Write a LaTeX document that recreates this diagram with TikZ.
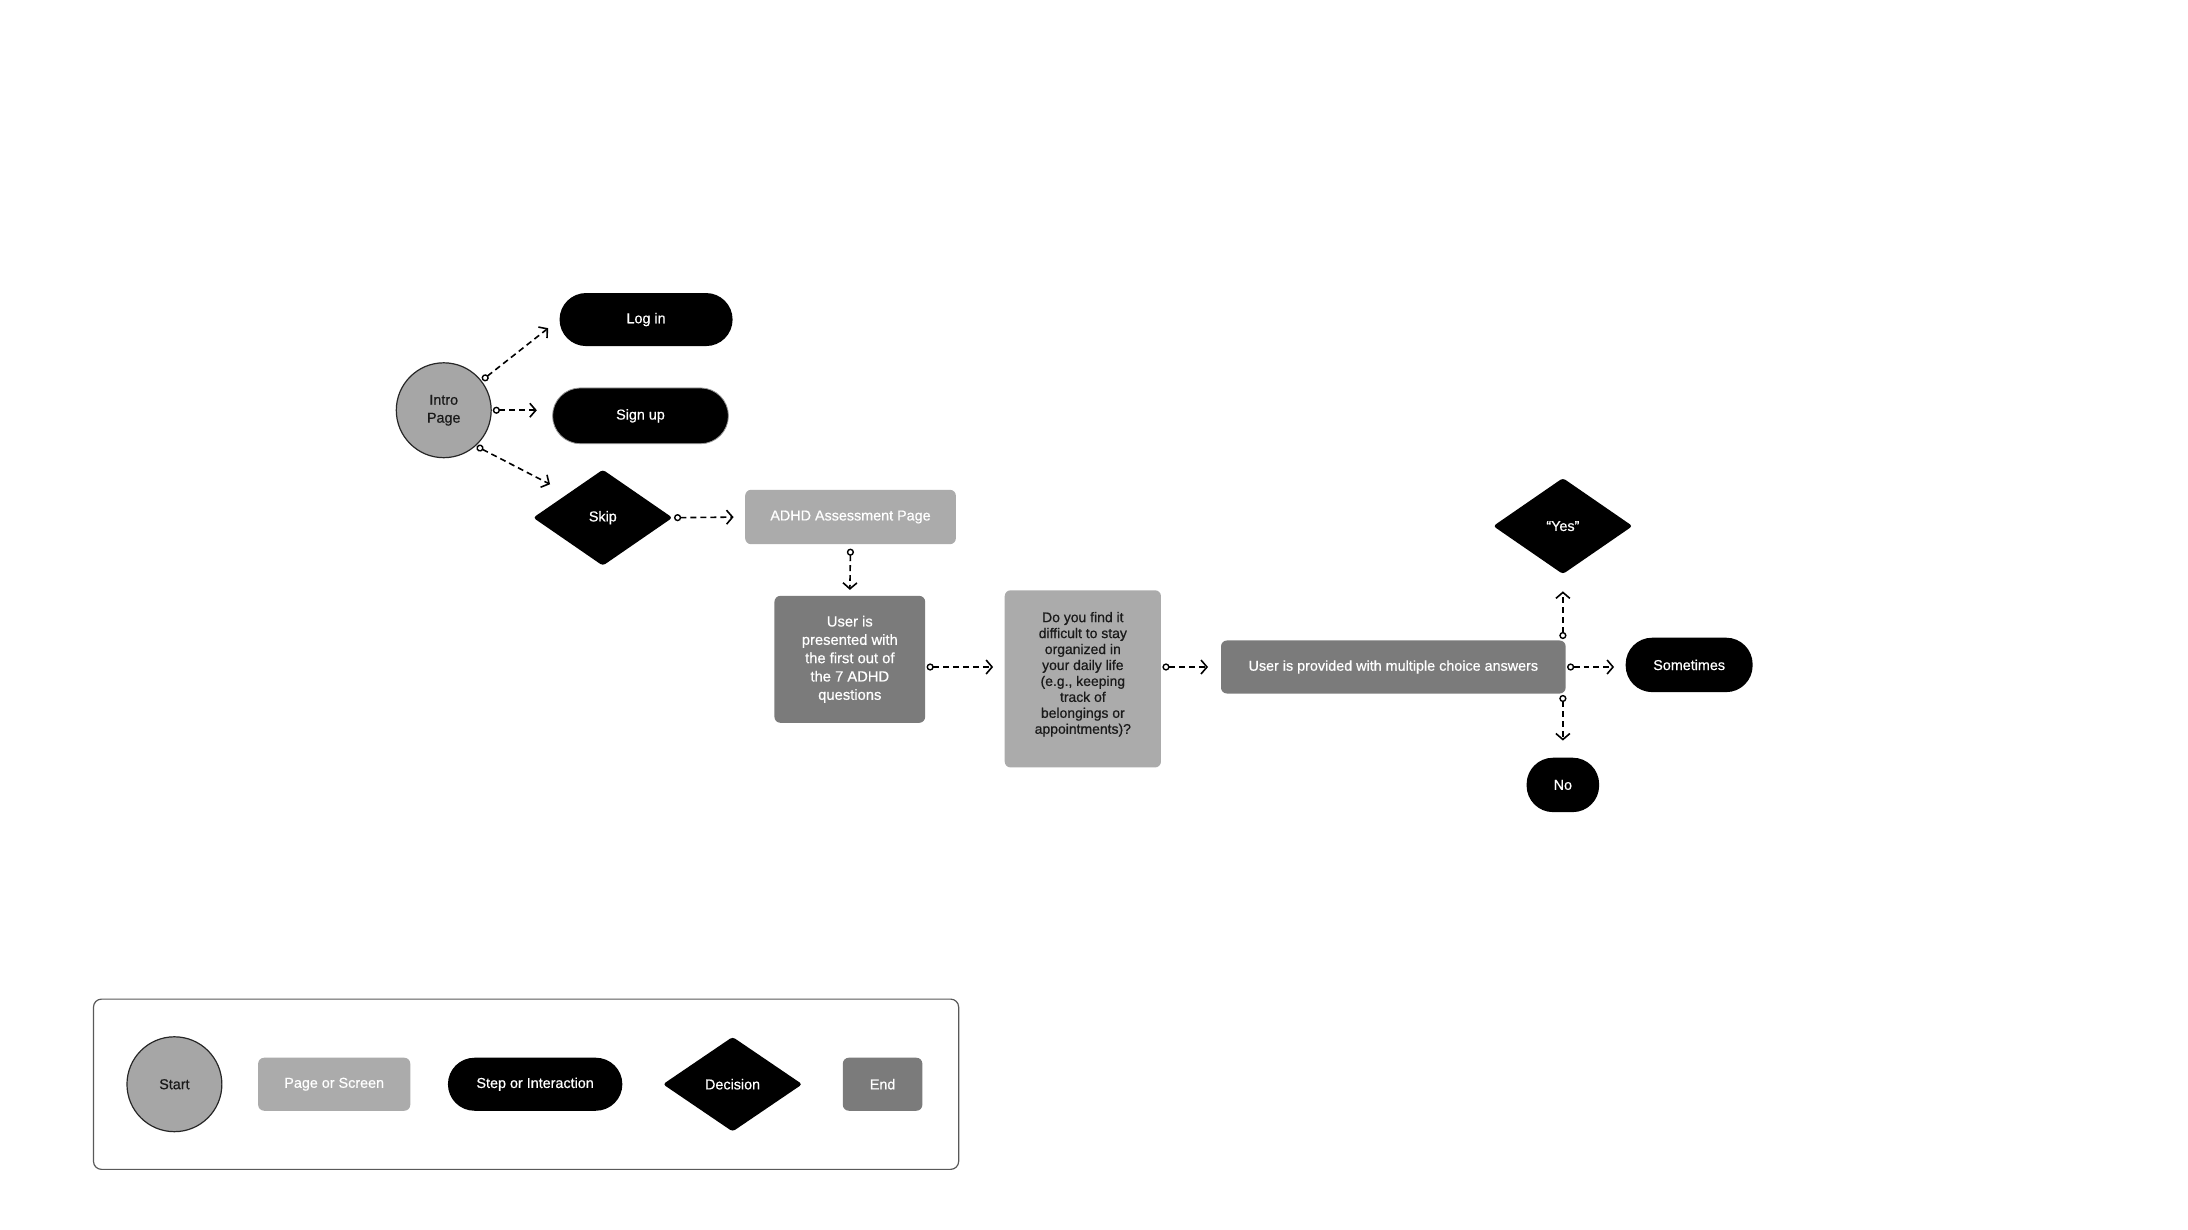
\documentclass[tikz,border=0pt]{standalone}
\usepackage{fontspec}
\setmainfont{Liberation Sans}[FakeBold=0.6]
\usetikzlibrary{shapes.geometric,arrows.meta,calc}
\definecolor{startgray}{HTML}{A6A6A6}
\definecolor{pagegray}{HTML}{ABABAB}
\definecolor{endgray}{HTML}{7B7B7B}
\definecolor{txtdark}{HTML}{1A1A1A}
\begin{document}
\begin{tikzpicture}[x=0.7pt,y=-0.7pt,
 base/.style={inner sep=0pt, font=\fontsize{7.2}{9}\selectfont, align=center},
 startnode/.style={base, circle, fill=startgray, draw=black!85, line width=0.6pt, minimum size=47.6pt, text=txtdark},
 pagebox/.style={base, rectangle, rounded corners=3pt, fill=pagegray, text=white},
 endbox/.style={base, rectangle, rounded corners=3pt, fill=endgray, text=white},
 pill/.style={base, rectangle, rounded corners=13.3pt, fill=black, text=white},
 decision/.style={base, diamond, fill=black, text=white, rounded corners=1.5pt, minimum width=70pt, minimum height=48.3pt},
 conn/.style={line width=0.8pt, dash pattern=on 3pt off 2pt, {Circle[open,length=3.6pt,width=3.6pt,line width=0.7pt]}-{Straight Barb[length=3pt,width=7pt,line width=0.8pt]}, shorten <=0.5pt}
]
\path[use as bounding box, fill=white] (0,0) rectangle (1568,881);

% main flow
\node[startnode] (intro) at (318,294) {Intro\\Page};
\node[pill, minimum width=86.8pt, minimum height=26.6pt] (login) at (463,229) {Log in};
\node[pill, minimum width=88.2pt, minimum height=28pt, rounded corners=14pt, draw=black!40, line width=0.4pt] (signup) at (459,298) {Sign up};
\node[decision] (skip) at (432,371) {Skip};
\node[pagebox, minimum width=105.7pt, minimum height=27.3pt] (adhd) at (609.5,370.5) {ADHD Assessment Page};
\node[endbox, minimum width=75.6pt, minimum height=63.7pt, font=\fontsize{7.4}{9.2}\selectfont] (user) at (609,472.5) {User is\\presented with\\the first out of\\the 7 ADHD\\questions};
\node[pagebox, text=txtdark, minimum width=78.4pt, minimum height=88.9pt, font=\fontsize{7}{8}\selectfont] (q1) at (776,486.5) {Do you find it\\difficult to stay\\organized in\\your daily life\\(e.g., keeping\\track of\\belongings or\\appointments)?\\[-2pt]\mbox{}};
\node[endbox, minimum width=172.9pt, minimum height=26.6pt] (multi) at (998.5,478) {User is provided with multiple choice answers};
\node[decision] (yes) at (1120,377) {“Yes"};
\node[pill, minimum width=63.7pt, minimum height=27.3pt] (sometimes) at (1210.5,476.5) {Sometimes};
\node[pill, minimum width=36.4pt, minimum height=27.3pt] (no) at (1120,562.5) {No};

% connectors
\draw[conn, shorten >=7pt] (intro.38) -- (login.west);
\draw[conn, shorten >=7.7pt] (intro.east) -- (intro.east -| signup.west);
\draw[conn, shorten >=10pt] (intro.-48) -- (skip.north west);
\draw[conn, shorten >=5.6pt] (skip.east) -- (adhd.west);
\draw[conn, shorten <=2pt, shorten >=2.8pt] (adhd.south) -- (user.north);
\draw[conn, shorten >=5.6pt] (user.east |- multi.west) -- (q1.west |- multi.west);
\draw[conn, shorten >=6.3pt] (q1.east |- multi.west) -- (multi.west);
\draw[conn, shorten >=8.4pt] (multi.north -| yes.south) -- (yes.south);
\draw[conn, shorten >=5.6pt] (multi.east) -- (multi.east -| sometimes.west);
\draw[conn, shorten >=8.4pt] (multi.south -| no.north) -- (no.north);

% legend
\node[draw=black!65, line width=0.6pt, rounded corners=4pt, minimum width=434pt, minimum height=85.4pt, inner sep=0pt] (legend) at (377,777) {};
\node[startnode] (lstart) at (125,777) {Start};
\node[pagebox, minimum width=76.3pt, minimum height=26.6pt] (lpage) at (239.5,777) {Page or Screen};
\node[pill, minimum width=87.5pt, minimum height=26.6pt] (lstep) at (383.5,777) {Step or Interaction};
\node[decision, minimum height=47.6pt] (ldec) at (525,777) {Decision};
\node[endbox, minimum width=39.9pt, minimum height=26.6pt] (lend) at (632.5,777) {End};
\end{tikzpicture}
\end{document}
